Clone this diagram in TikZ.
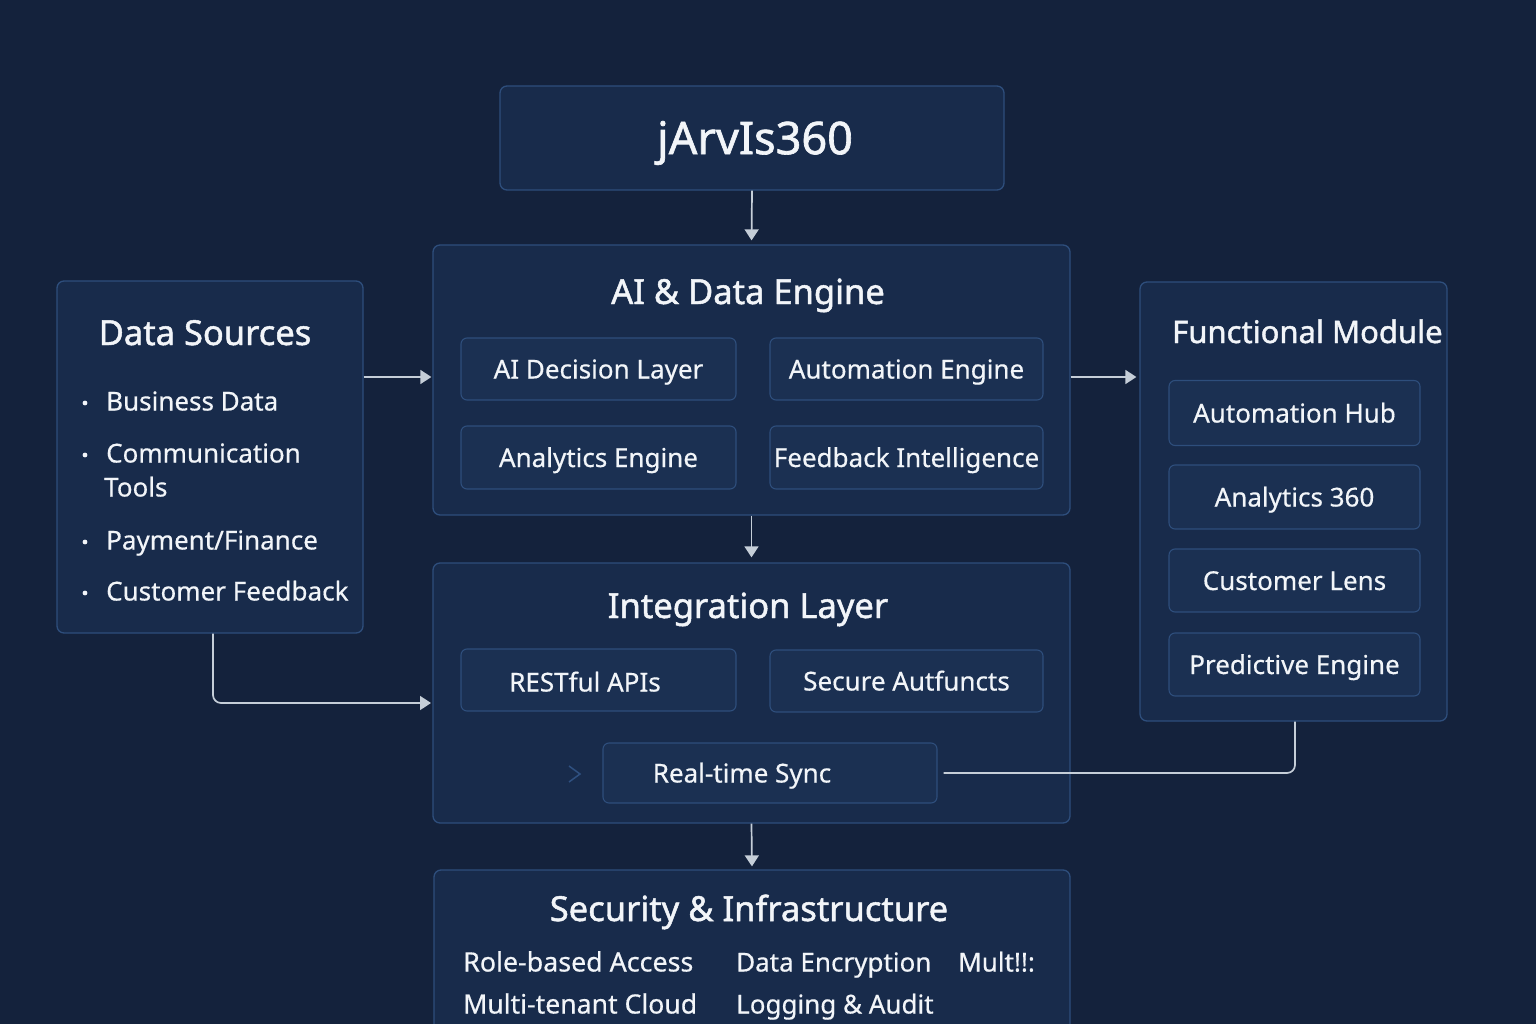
\documentclass[tikz,border=0pt]{standalone}
\usepackage{fontspec}
\setmainfont{Noto Sans}
\newfontfamily\regf{Noto Sans}[FakeBold=0.5]
\newfontfamily\ttlf{Noto Sans}[FakeBold=1.4]
\usetikzlibrary{arrows.meta}
\definecolor{bgc}{HTML}{14223C}
\definecolor{boxc}{HTML}{182B4B}
\definecolor{subc}{HTML}{1B3052}
\definecolor{bordc}{HTML}{2E4E7C}
\definecolor{arrc}{HTML}{C5CED8}
\definecolor{txtc}{HTML}{F2F5F9}
\definecolor{chevc}{HTML}{2F5080}
\begin{document}
\begin{tikzpicture}[x=1pt,y=-1pt,
  bigbox/.style={draw=bordc, fill=boxc, rounded corners=7pt, line width=1.3pt, inner sep=0pt},
  subbox/.style={draw=bordc, fill=subc, rounded corners=6pt, line width=1.1pt, inner sep=0pt, text=txtc, text height=25pt, text depth=6pt, font=\regf\fontsize{26}{30}\selectfont},
  ttl/.style={text=txtc, inner sep=0pt, text height=32pt, text depth=8pt, font=\ttlf\fontsize{34.5}{40}\selectfont},
  itm/.style={text=txtc, inner sep=0pt, anchor=west, text height=25pt, text depth=6pt, font=\regf\fontsize{26}{30}\selectfont},
  arr/.style={draw=arrc, line width=1.7pt, -{Triangle[width=14pt,length=11pt]}},
  lnk/.style={draw=arrc, line width=1.7pt}
]
\clip (0,0) rectangle (1536,1024);
\fill[bgc] (0,0) rectangle (1536,1024);

% main boxes
\node[bigbox, minimum width=504, minimum height=104] (jar) at (752,138) {};
\node[text=txtc, inner sep=0pt, font=\ttlf\fontsize{45}{50}\selectfont] (jart) at (755,143) {jArvIs360};

\node[bigbox, minimum width=637, minimum height=270] (ai) at (751.5,380) {};
\node[ttl] (ait) at (748,292) {AI \& Data Engine};
\node[subbox, minimum width=275, minimum height=62] (aidl) at (598.5,369) {AI Decision Layer};
\node[subbox, minimum width=273, minimum height=62] (aue) at (906.5,369) {Automation Engine};
\node[subbox, minimum width=275, minimum height=63] (ane) at (598.5,457.5) {Analytics Engine};
\node[subbox, minimum width=273, minimum height=63] (fbi) at (906.5,457.5) {Feedback Intelligence};

\node[bigbox, minimum width=306, minimum height=352] (ds) at (210,457) {};
\node[ttl] (dst) at (205,333) {Data Sources};
\foreach \yy in {403,455,542,593} \fill[txtc] (85,\yy) circle (2.4pt);
\node[itm] (d1) at (106,401) {Business Data};
\node[itm] (d2) at (106,453) {Communication};
\node[itm] (d3) at (104,487) {Tools};
\node[itm] (d4) at (106,540) {Payment/Finance};
\node[itm] (d5) at (106,591) {Customer Feedback};

\node[bigbox, minimum width=307, minimum height=439] (fm) at (1293.5,501.5) {};
\node[ttl, anchor=west, text height=29pt, text depth=7pt, font=\ttlf\fontsize{31}{36}\selectfont] (fmt) at (1172,332) {Functional Module};
\node[subbox, minimum width=251, minimum height=65] (fm1) at (1294.5,413) {Automation Hub};
\node[subbox, minimum width=251, minimum height=64] (fm2) at (1294.5,497) {Analytics 360};
\node[subbox, minimum width=251, minimum height=63] (fm3) at (1294.5,580.5) {Customer Lens};
\node[subbox, minimum width=251, minimum height=63] (fm4) at (1294.5,664.5) {Predictive Engine};

\node[bigbox, minimum width=637, minimum height=260] (il) at (751.5,693) {};
\node[ttl] (ilt) at (748,606) {Integration Layer};
\node[subbox, minimum width=275, minimum height=62] (rest) at (598.5,680) {};
\node[itm, anchor=center] (restt) at (585,682) {RESTful APIs};
\node[subbox, minimum width=273, minimum height=62] (sec) at (906.5,681) {Secure Autfuncts};
\node[subbox, minimum width=334, minimum height=60] (rts) at (770,773) {};
\node[itm, anchor=center] (rtst) at (742,773) {Real-time Sync};
\draw[chevc, line width=1.5pt] (569,766) -- (580,774) -- (569,782);

\node[bigbox, minimum width=636, minimum height=190] (si) at (752,965) {};
\node[ttl] (sit) at (749,909) {Security \& Infrastructure};
\node[itm, font=\regf\fontsize{26.8}{30}\selectfont] (s1) at (463,962) {Role-based Access};
\node[itm] (s2) at (736,962) {Data Encryption};
\node[itm] (s3) at (958,962) {Mult!!:};
\node[itm, font=\regf\fontsize{26.6}{30}\selectfont] (s4) at (463,1004) {Multi-tenant Cloud};
\node[itm] (s5) at (736,1004) {Logging \& Audit};

% connectors
\coordinate (ilin) at (431,703);
\draw[arr, shorten >=4pt] (jar.south) -- (ai.north);
\draw[arr, shorten >=1pt] (ds.east |- 0,377) -- (ai.west |- 0,377);
\draw[arr, shorten >=3pt] (ai.east |- 0,377) -- (fm.west |- 0,377);
\draw[arr, shorten >=5pt] (ai.south) -- (il.north);
\draw[arr, rounded corners=8pt] (ds.south -| 213,0) |- (ilin);
\draw[lnk, rounded corners=8pt, shorten <=6pt] (rts.east) -| (fm.south -| 1295,0);
\draw[arr, shorten >=3pt] (il.south) -- (si.north);
\end{tikzpicture}
\end{document}
